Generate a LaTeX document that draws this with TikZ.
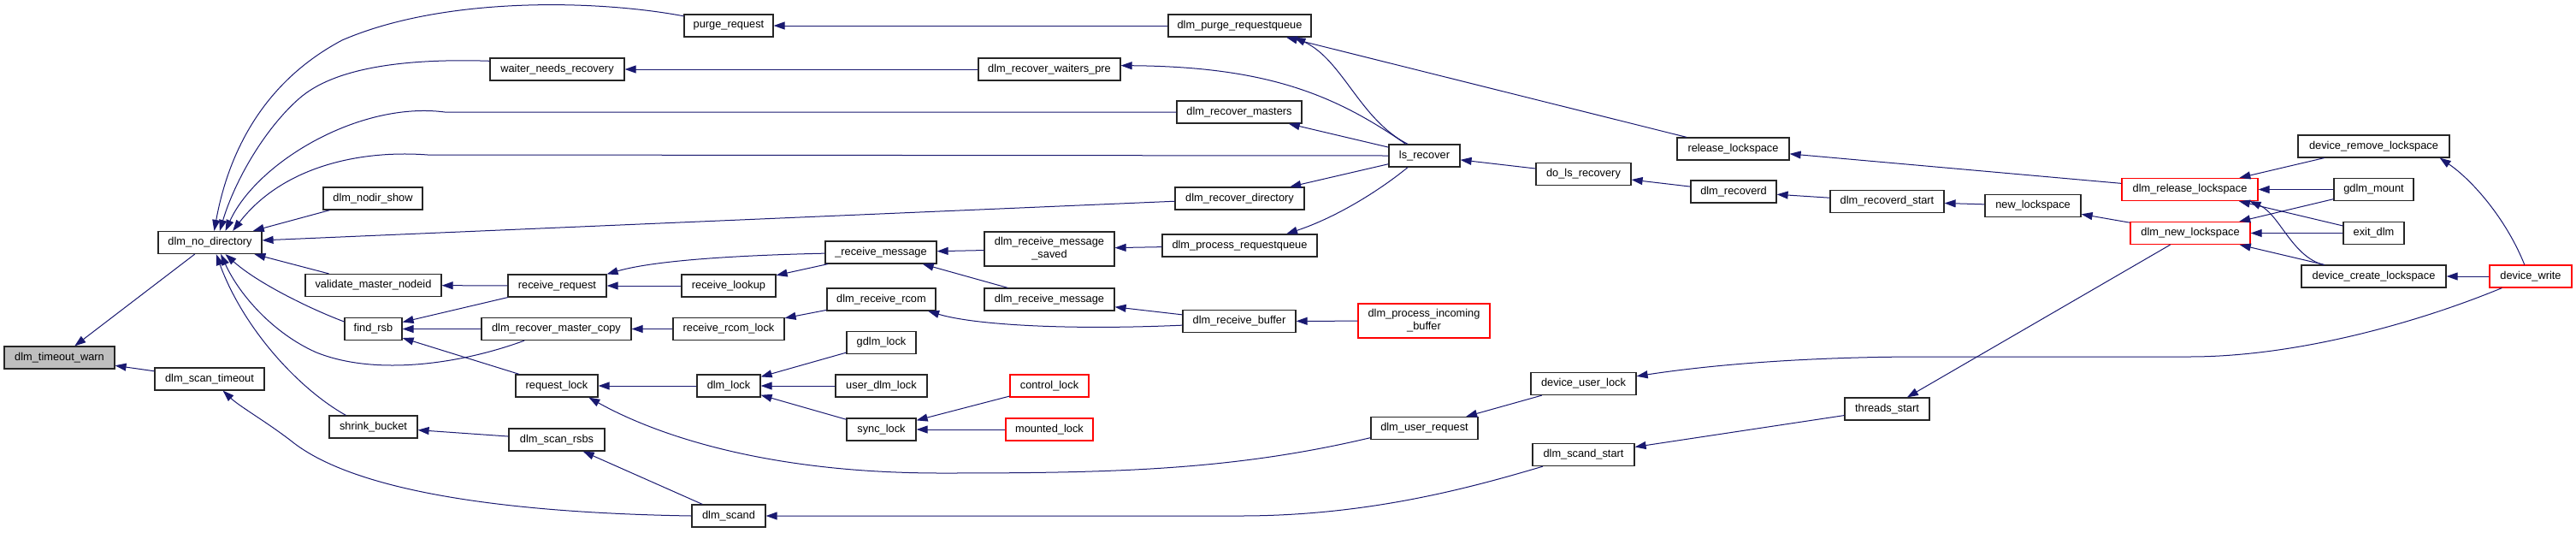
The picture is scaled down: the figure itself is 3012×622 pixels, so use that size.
\documentclass[tikz,border=0pt]{standalone}
\usepackage{fontspec}
\setmainfont{Liberation Sans}
\usepackage{xcolor}
\usepackage{tikz}
\usetikzlibrary{arrows.meta}

\definecolor{midnight}{HTML}{191970}

\begin{document}
\begin{tikzpicture}[
  x=1pt, y=-1pt,
  font=\fontsize{12.8}{15}\selectfont,
  fn/.style={draw=black!85, fill=white, line width=1.2pt, minimum height=26pt, inner sep=0pt, align=center},
  fnred/.style={fn, draw=red},
  fnroot/.style={fn, fill=black!25},
  call/.style={draw=midnight, line width=1pt, -{Triangle[length=13pt,width=9pt]}}
]

\useasboundingbox (0,0) rectangle (3012,622);

% --- column 1-2: root and direct callers ---
\node[fnroot, minimum width=129pt] (timeoutwarn) at (69.5,418) {dlm\_timeout\_warn};
\node[fn, minimum width=121pt] (nodirectory) at (245.5,283.5) {dlm\_no\_directory};
\node[fn, minimum width=128pt] (scantimeout) at (245,443) {dlm\_scan\_timeout};

% --- column 3 ---
\node[fn, minimum width=116pt] (nodirshow) at (436,232) {dlm\_nodir\_show};
\node[fn, minimum width=159pt] (validatemaster) at (436.5,333.5) {validate\_master\_nodeid};
\node[fn, minimum width=67pt] (findrsb) at (436.5,384.5) {find\_rsb};
\node[fn, minimum width=103pt] (shrinkbucket) at (436.5,499) {shrink\_bucket};

% --- column 4 ---
\node[fn, minimum width=157pt] (waiterneeds) at (651.5,81) {waiter\_needs\_recovery};
\node[fn, minimum width=115pt] (receiverequest) at (651.5,334) {receive\_request};
\node[fn, minimum width=175pt] (recovermastercopy) at (650.5,384.5) {dlm\_recover\_master\_copy};
\node[fn, minimum width=96pt] (requestlock) at (651,451) {request\_lock};
\node[fn, minimum width=112pt] (scanrsbs) at (651,514) {dlm\_scan\_rsbs};

% --- column 5 ---
\node[fn, minimum width=104pt] (purgerequest) at (852,30) {purge\_request};
\node[fn, minimum width=110pt] (receivelookup) at (852,334) {receive\_lookup};
\node[fn, minimum width=130pt] (receivercomlock) at (852,384.5) {receive\_rcom\_lock};
\node[fn, minimum width=74pt] (dlmlock) at (852,451) {dlm\_lock};
\node[fn, minimum width=86pt] (scand) at (852,603) {dlm\_scand};

% --- column 6 ---
\node[fn, minimum width=130pt] (recvmessage) at (1030,295) {\_receive\_message};
\node[fn, minimum width=127pt] (receivercom) at (1030.5,350) {dlm\_receive\_rcom};
\node[fn, minimum width=81pt] (gdlmlock) at (1030.5,400.5) {gdlm\_lock};
\node[fn, minimum width=107pt] (userdlmlock) at (1030.5,451) {user\_dlm\_lock};
\node[fn, minimum width=81pt] (synclock) at (1030.5,502) {sync\_lock};

% --- column 7 ---
\node[fn, minimum width=166pt] (waiterspre) at (1227,81) {dlm\_recover\_waiters\_pre};
\node[fn, minimum width=152pt, minimum height=40pt] (messagesaved) at (1227,291) {dlm\_receive\_message\\\_saved};
\node[fn, minimum width=152pt] (receivemessage) at (1227,350) {dlm\_receive\_message};
\node[fnred, minimum width=92pt] (controllock) at (1227,451) {control\_lock};
\node[fnred, minimum width=102pt] (mountedlock) at (1227,502) {mounted\_lock};

% --- column 8 ---
\node[fn, minimum width=167pt] (purgequeue) at (1449.5,30) {dlm\_purge\_requestqueue};
\node[fn, minimum width=146pt] (recovermasters) at (1449,131) {dlm\_recover\_masters};
\node[fn, minimum width=151pt] (recoverdirectory) at (1449.5,232) {dlm\_recover\_directory};
\node[fn, minimum width=181pt] (processqueue) at (1449.5,287) {dlm\_process\_requestqueue};
\node[fn, minimum width=132pt] (receivebuffer) at (1449,375.5) {dlm\_receive\_buffer};

% --- column 9 ---
\node[fn, minimum width=83pt] (lsrecover) at (1665.5,182) {ls\_recover};
\node[fnred, minimum width=154pt, minimum height=40pt] (incomingbuffer) at (1665,375) {dlm\_process\_incoming\\\_buffer};
\node[fn, minimum width=125pt] (userrequest) at (1665.5,500.5) {dlm\_user\_request};

% --- column 10-13 ---
\node[fn, minimum width=111pt] (dolsrecovery) at (1851.5,203.5) {do\_ls\_recovery};
\node[fn, minimum width=123pt] (deviceuserlock) at (1851.5,448.5) {device\_user\_lock};
\node[fn, minimum width=119pt] (scandstart) at (1851.5,531.5) {dlm\_scand\_start};
\node[fn, minimum width=131pt] (releaselockspace) at (2026.5,174) {release\_lockspace};
\node[fn, minimum width=100pt] (recoverd) at (2027,224) {dlm\_recoverd};
\node[fn, minimum width=133pt] (recoverdstart) at (2206.5,235.5) {dlm\_recoverd\_start};
\node[fn, minimum width=99pt] (threadsstart) at (2206.5,478) {threads\_start};
\node[fn, minimum width=112pt] (newlockspace) at (2377,240.5) {new\_lockspace};

% --- column 14-16 ---
\node[fnred, minimum width=159pt] (dlmrelease) at (2560.5,221.5) {dlm\_release\_lockspace};
\node[fnred, minimum width=140pt] (dlmnew) at (2561,272.5) {dlm\_new\_lockspace};
\node[fn, minimum width=177pt] (deviceremove) at (2775.5,171) {device\_remove\_lockspace};
\node[fn, minimum width=93pt] (gdlmmount) at (2775.5,221.5) {gdlm\_mount};
\node[fn, minimum width=71pt] (exitdlm) at (2775.5,272.5) {exit\_dlm};
\node[fn, minimum width=169pt] (devicecreate) at (2775.5,323) {device\_create\_lockspace};
\node[fnred, minimum width=96pt] (devicewrite) at (2959,323) {device\_write};

% --- straight calls ---
\draw[call] (nodirectory) -- (timeoutwarn);
\draw[call] (scantimeout) -- (timeoutwarn);
\draw[call] (nodirshow) -- (nodirectory);
\draw[call] (recoverdirectory) -- (nodirectory);
\draw[call] (validatemaster) -- (nodirectory);
\draw[call] (receiverequest) -- (validatemaster);
\draw[call] (receiverequest) -- (findrsb);
\draw[call] (recovermastercopy) -- (findrsb);
\draw[call] (requestlock) -- (findrsb);
\draw[call] (scanrsbs) -- (shrinkbucket);
\draw[call] (scand) -- (scanrsbs);
\draw[call] (purgequeue) -- (purgerequest);
\draw[call] (waiterspre) -- (waiterneeds);
\draw[call] (receivelookup) -- (receiverequest);
\draw[call] (recvmessage) -- (receivelookup);
\draw[call] (receivercomlock) -- (recovermastercopy);
\draw[call] (dlmlock) -- (requestlock);
\draw[call] (messagesaved) -- (recvmessage);
\draw[call] (receivemessage) -- (recvmessage);
\draw[call] (receivercom) -- (receivercomlock);
\draw[call] (gdlmlock) -- (dlmlock);
\draw[call] (userdlmlock) -- (dlmlock);
\draw[call] (synclock) -- (dlmlock);
\draw[call] (controllock) -- (synclock);
\draw[call] (mountedlock) -- (synclock);
\draw[call] (processqueue) -- (messagesaved);
\draw[call] (receivebuffer) -- (receivemessage);
\draw[call] (incomingbuffer) -- (receivebuffer);
\draw[call] (lsrecover) -- (recovermasters);
\draw[call] (lsrecover) -- (recoverdirectory);
\draw[call] (releaselockspace) -- (purgequeue);
\draw[call] (dolsrecovery) -- (lsrecover);
\draw[call] (recoverd) -- (dolsrecovery);
\draw[call] (recoverdstart) -- (recoverd);
\draw[call] (newlockspace) -- (recoverdstart);
\draw[call] (dlmnew) -- (newlockspace);
\draw[call] (dlmnew) -- (threadsstart);
\draw[call] (deviceuserlock) -- (userrequest);
\draw[call] (threadsstart) -- (scandstart);
\draw[call] (dlmrelease) -- (releaselockspace);
\draw[call] (deviceremove) -- (dlmrelease);
\draw[call] (gdlmmount) -- (dlmrelease);
\draw[call] (exitdlm) -- (dlmrelease);
\draw[call] (gdlmmount) -- (dlmnew);
\draw[call] (exitdlm) -- (dlmnew);
\draw[call] (devicecreate) -- (dlmnew);
\draw[call] (devicewrite) -- (devicecreate);

% --- curved calls ---
\draw[call] (purgerequest.168) .. controls (700,0) and (520,-5) .. (400,47) .. controls (300,100) and (265,190) .. (nodirectory.70);
\draw[call] (waiterneeds.173) .. controls (470,68) and (390,80) .. (350,115) .. controls (310,150) and (275,210) .. (nodirectory.50);
\draw[call] (recovermasters.west) -- (520,131) .. controls (420,118) and (300,190) .. (nodirectory.37);
\draw[call] (lsrecover.west) -- (500,181) .. controls (420,175) and (330,195) .. (nodirectory.27);
\draw[call] (findrsb.166) .. controls (360,360) and (300,330) .. (nodirectory.-37);
\draw[call] (recovermastercopy.200) .. controls (540,425) and (440,440) .. (370,412) .. controls (320,390) and (280,345) .. (nodirectory.-47);
\draw[call] (shrinkbucket.157) .. controls (350,455) and (285,385) .. (nodirectory.-62);
\draw[call] (scand.west) .. controls (620,600) and (420,580) .. (340,515) .. controls (310,492) and (280,475) .. (scantimeout.-41);
\draw[call] (userrequest.190) .. controls (1440,550) and (1300,553) .. (1100,553) .. controls (900,553) and (770,510) .. (requestlock.-20);
\draw[call] (devicewrite.202) .. controls (2820,380) and (2680,417) .. (2560,417) -- (2250,417) .. controls (2100,417) and (1990,428) .. (deviceuserlock.8);
\draw[call] (scandstart.196) .. controls (1720,570) and (1600,603) .. (1450,603) -- (scand.east);
\draw[call] (lsrecover.148) .. controls (1560,110) and (1480,78) .. (waiterspre.3);
\draw[call] (lsrecover.145) .. controls (1590,140) and (1570,70) .. (purgequeue.-12);
\draw[call] (lsrecover.215) .. controls (1610,225) and (1560,255) .. (processqueue.14);
\draw[call] (receivebuffer.184) .. controls (1250,386) and (1140,380) .. (receivercom.-14);
\draw[call] (recvmessage.181) .. controls (880,298) and (770,303) .. (receiverequest.north east);
\draw[call] (devicecreate.167) .. controls (2680,300) and (2665,250) .. (dlmrelease.-11);
\draw[call] (devicewrite.118) .. controls (2930,255) and (2890,210) .. (deviceremove.-10);

\end{tikzpicture}
\end{document}
